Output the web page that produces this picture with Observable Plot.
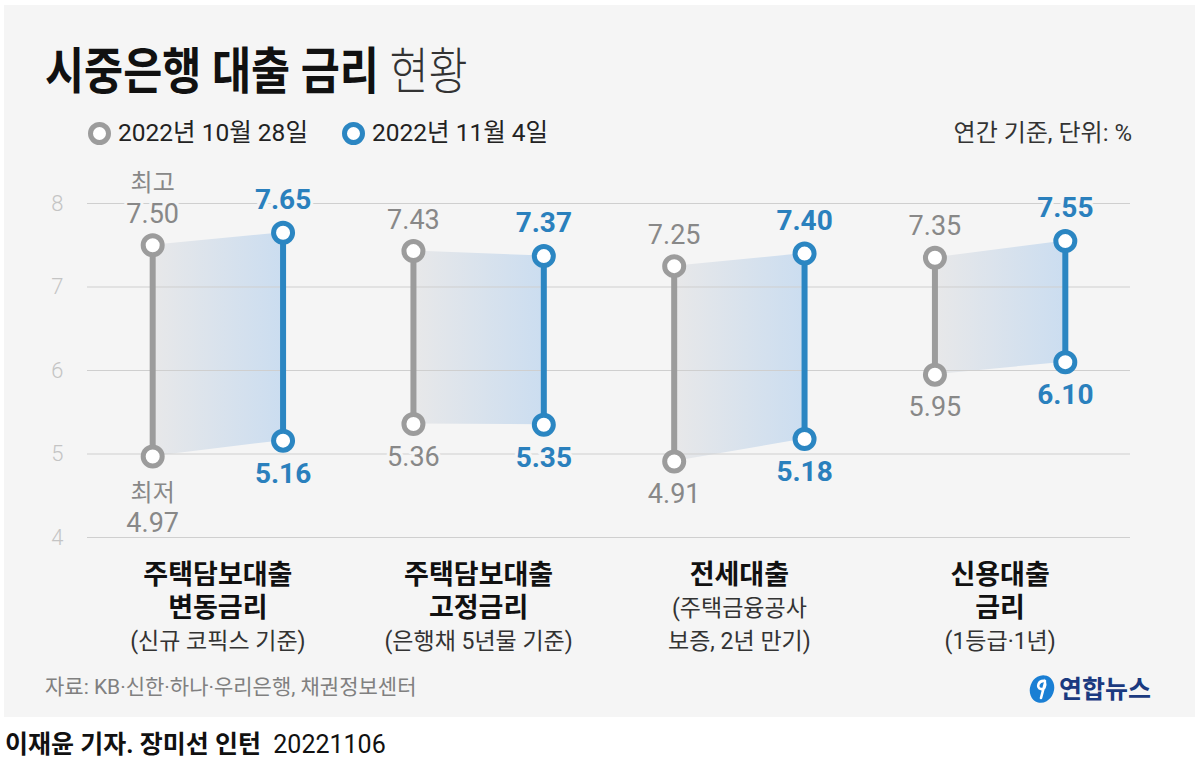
<!DOCTYPE html>
<html><head><meta charset="utf-8">
<script src="https://cdn.jsdelivr.net/npm/d3@7"></script>
<script src="https://cdn.jsdelivr.net/npm/@observablehq/plot@0.6"></script>
<style>
html,body{margin:0;padding:0;background:#fff;}
body{width:1200px;height:770px;position:relative;overflow:hidden;font-family:Roboto,"Noto Sans CJK KR",sans-serif;}
#panel{position:absolute;left:4px;top:5px;width:1191px;height:712px;background:#f5f5f5;}
#chart{position:absolute;left:0;top:0;}
.abs{position:absolute;white-space:nowrap;line-height:1;}
#title{left:45px;top:47px;font-size:50px;color:#111;transform:scaleX(0.85);transform-origin:left center;}
#title .b{font-weight:700;}
#title .l{font-weight:300;color:#333;}
#legend{left:88px;top:121px;display:flex;align-items:center;font-size:24.5px;color:#222;}
#legend .item{display:flex;align-items:center;margin-right:34px;}
#legend .ring{width:23px;height:23px;border-radius:50%;box-sizing:border-box;border:5px solid;background:#fff;margin-right:7px;}
#unit{right:68px;top:121px;font-size:24px;color:#333;}
#source{left:45px;top:677px;font-size:21px;color:#808080;}
#logo{left:1028px;top:674px;display:flex;align-items:center;font-size:25px;font-weight:700;color:#1b3a80;}
#credit{left:5px;top:732px;font-size:25px;color:#111;}
#credit .b{font-weight:700;}
</style>
</head><body>
<div id="panel"></div>
<div id="chart"></div>
<div id="title" class="abs"><span class="b">시중은행 대출 금리</span> <span class="l">현황</span></div>
<div id="legend" class="abs"></div>
<div id="unit" class="abs">연간 기준, 단위: %</div>
<div id="source" class="abs">자료: KB·신한·하나·우리은행, 채권정보센터</div>
<div id="logo" class="abs"><svg width="28" height="30" viewBox="0 0 28 30" style="margin-right:3px"><ellipse cx="14" cy="15" rx="12" ry="14" transform="rotate(20 14 15)" fill="#1a7fd4"/><path d="M17 7 C10 6 8 14 13 15 C16 16 18 12 17 9 L13 24" stroke="#fff" stroke-width="2.6" fill="none" stroke-linecap="round"/></svg><span>연합뉴스</span></div>
<div id="credit" class="abs"><span class="b">이재윤 기자. 장미선 인턴</span>&nbsp; 20221106</div>
<script>
// ---- data ----
const series = ["2022년 10월 28일", "2022년 11월 4일"];
const seriesColors = ["#9c9c9c", "#2b86c2"];
const categories = ["주택담보대출 변동금리", "주택담보대출 고정금리", "전세대출", "신용대출 금리"];
const catTitleLines = [["주택담보대출", "변동금리"], ["주택담보대출", "고정금리"], ["전세대출"], ["신용대출", "금리"]];
const catNoteLines = [["(신규 코픽스 기준)"], ["(은행채 5년물 기준)"], ["(주택금융공사", "보증, 2년 만기)"], ["(1등급·1년)"]];
const prevHigh = [7.50, 7.43, 7.25, 7.35];
const prevLow  = [4.97, 5.36, 4.91, 5.95];
const currHigh = [7.65, 7.37, 7.40, 7.55];
const currLow  = [5.16, 5.35, 5.18, 6.10];
const yTicks = [4, 5, 6, 7, 8];
const highNote = "최고", lowNote = "최저";

// legend
const legend = document.getElementById("legend");
series.forEach((s, i) => {
  const it = document.createElement("div"); it.className = "item";
  const r = document.createElement("span"); r.className = "ring"; r.style.borderColor = seriesColors[i];
  const t = document.createElement("span"); t.textContent = s;
  it.appendChild(r); it.appendChild(t); legend.appendChild(it);
});

// rows
const rows = [];
categories.forEach((c, i) => {
  rows.push({cat: c, ci: i, s: 0, pos: 2 * i, low: prevLow[i], high: prevHigh[i]});
  rows.push({cat: c, ci: i, s: 1, pos: 2 * i + 1, low: currLow[i], high: currHigh[i]});
});
const labelRows = [];
categories.forEach((c, i) => {
  const lines = catTitleLines[i].map(t => ({t, bold: true})).concat(catNoteLines[i].map(t => ({t, bold: false})));
  lines.forEach((l, j) => labelRows.push({pos: 2 * i + 0.5, j, text: l.t, bold: l.bold}));
});

const FONT = "Roboto, 'Noto Sans CJK KR', sans-serif";
const halo = {stroke: "#f5f5f5", strokeWidth: 6};
const gray = rows.filter(d => d.s === 0), blue = rows.filter(d => d.s === 1);

const catMarks = [];
for (let j = 0; j < 3; j++) {
  for (const bold of [true, false]) {
    const data = labelRows.filter(d => d.j === j && d.bold === bold);
    if (!data.length) continue;
    catMarks.push(Plot.text(data, {
      x: "pos", frameAnchor: "bottom", dy: 38 + 33 * j, text: "text", lineAnchor: "middle",
      fontSize: bold ? 27 : 23, fontWeight: bold ? 700 : 400, fill: bold ? "#111" : "#333", fontFamily: FONT
    }));
  }
}

const defs = () => {
  const ns = "http://www.w3.org/2000/svg";
  const d = document.createElementNS(ns, "defs");
  const g = document.createElementNS(ns, "linearGradient");
  g.setAttribute("id", "bandGrad"); g.setAttribute("x1", "0"); g.setAttribute("x2", "1"); g.setAttribute("y1", "0"); g.setAttribute("y2", "0");
  [["0%", "#e8e8e9"], ["100%", "#cbddf0"]].forEach(([o, c]) => {
    const s = document.createElementNS(ns, "stop"); s.setAttribute("offset", o); s.setAttribute("stop-color", c); g.appendChild(s);
  });
  d.appendChild(g); return d;
};

const chart = Plot.plot({
  width: 1200, height: 717,
  marginTop: 203, marginBottom: 180, marginLeft: 87, marginRight: 70,
  style: {background: "transparent", fontFamily: FONT, overflow: "visible"},
  x: {type: "linear", domain: [-0.5, 7.5], axis: null},
  y: {domain: [4, 8], axis: null},
  color: {type: "ordinal", domain: [0, 1], range: seriesColors},
  marks: [
    defs,
    Plot.areaY(rows, {x: "pos", y1: "low", y2: "high", z: "cat", fill: "url(#bandGrad)"}),
    Plot.gridY(yTicks, {stroke: "#cfcfcf", strokeOpacity: 1, strokeWidth: 1}),
    Plot.axisY(yTicks, {tickSize: 0, tickPadding: 24, fontSize: 22, color: "#c4c4c4", fontWeight: 300, label: null, fontFamily: FONT, tickFormat: d => String(d)}),
    Plot.ruleX(rows, {x: "pos", y1: "low", y2: "high", stroke: "s", strokeWidth: 6}),
    Plot.dot(rows, {x: "pos", y: "high", r: 9.5, fill: "white", stroke: "s", strokeWidth: 5}),
    Plot.dot(rows, {x: "pos", y: "low", r: 9.5, fill: "white", stroke: "s", strokeWidth: 5}),
    // gray labels
    Plot.text(gray, {x: "pos", y: "high", text: d => d.high.toFixed(2), dy: -31, fontSize: 27, fill: "#888", ...halo, fontFamily: FONT}),
    Plot.text(gray.filter(d => d.ci > 0), {x: "pos", y: "low", text: d => d.low.toFixed(2), dy: 33, fontSize: 27, fill: "#888", ...halo, fontFamily: FONT}),
    Plot.text(gray.filter(d => d.ci === 0), {x: "pos", y: "low", text: d => d.low.toFixed(2), dy: 67, fontSize: 27, fill: "#888", ...halo, fontFamily: FONT}),
    Plot.text(gray.filter(d => d.ci === 0), {x: "pos", y: "high", text: () => highNote, dy: -62, fontSize: 24, fill: "#888", ...halo, fontFamily: FONT}),
    Plot.text(gray.filter(d => d.ci === 0), {x: "pos", y: "low", text: () => lowNote, dy: 37, fontSize: 24, fill: "#888", ...halo, fontFamily: FONT}),
    // blue labels
    Plot.text(blue, {x: "pos", y: "high", text: d => d.high.toFixed(2), dy: -33, fontSize: 28, fontWeight: 700, fill: "#2a80bd", ...halo, fontFamily: FONT}),
    Plot.text(blue, {x: "pos", y: "low", text: d => d.low.toFixed(2), dy: 33, fontSize: 28, fontWeight: 700, fill: "#2a80bd", ...halo, fontFamily: FONT}),
    ...catMarks
  ]
});
document.getElementById("chart").appendChild(chart);
</script>
</body></html>
